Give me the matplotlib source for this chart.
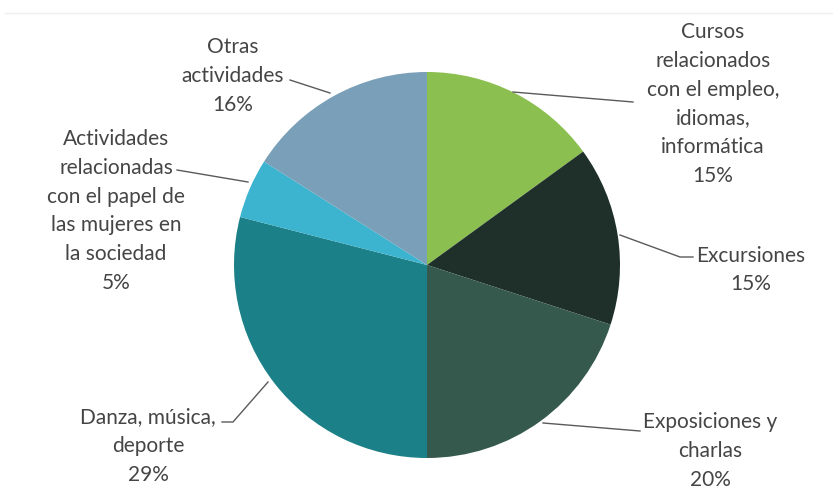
import matplotlib.pyplot as plt

labels = ["Cursos\nrelacionados\ncon el empleo,\nidiomas,\ninformática",
          "Excursiones",
          "Exposiciones y\ncharlas",
          "Danza, música,\ndeporte",
          "Actividades\nrelacionadas\ncon el papel de\nlas mujeres en\nla sociedad",
          "Otras\nactividades"]
values = [15, 15, 20, 29, 5, 16]
colors = ["#8bbf50", "#1f302b", "#36594d", "#1b8087", "#3cb3cf", "#7a9fb8"]

W, H = 833, 493
def py(y):
    return H - y

# label centres and leader lines, in pixel coords of the reference
label_pos = [(713, 104), (751, 270), (710, 451), (148, 446), (116, 211), (233, 76)]
leaders = [[(513, 92), (633, 102)],
           [(620, 235), (680, 257), (693, 257)],
           [(543, 423), (640, 431)],
           [(268, 382), (233, 422), (222, 422)],
           [(177, 170), (248, 182)],
           [(290, 80), (330, 93)]]

plt.rcParams['font.family'] = ['Lato', 'DejaVu Sans']
fig = plt.figure(figsize=(W / 100, H / 100), dpi=100)
ax = fig.add_axes([0, 0, 1, 1])

ax.pie(values, colors=colors, startangle=90, counterclock=False,
       center=(427, py(265)), radius=193, frame=True,
       wedgeprops=dict(linewidth=0))
ax.set_xlim(0, W)
ax.set_ylim(0, H)
ax.axis("off")

for lab, v, (x, y) in zip(labels, values, label_pos):
    ax.text(x, py(y), lab + "\n" + str(v) + "%", ha="center", va="center",
            fontsize=15, color="#454545", linespacing=1.55)

for pts in leaders:
    ax.plot([p[0] for p in pts], [py(p[1]) for p in pts], color="#5a5a5a", lw=1)

ax.plot([5, W], [py(13), py(13)], color="#efefef", lw=1)

fig.savefig("out.png", dpi=100)
